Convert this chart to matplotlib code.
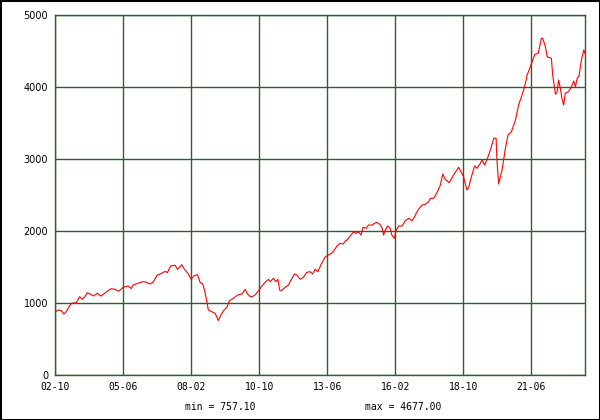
import matplotlib
matplotlib.use("Agg")
import matplotlib.pyplot as plt
from matplotlib.patches import Rectangle

# months since 2002-10
months = [0.3, 1.4, 3.0, 4.2, 5.3, 6.6, 7.7, 10.0, 11.6, 12.8, 14.0, 15.2, 16.6, 18.2, 19.9,
          21.5, 23.4, 24.9, 26.5, 28.1, 30.0, 32.0, 34.4, 35.9, 36.7, 39.1, 41.1, 42.7, 44.6, 46.1,
          48.1, 50.2, 51.8, 52.8, 54.4, 56.5, 57.6, 59.6, 60.8, 62.7, 64.0, 65.4, 67.0, 68.2, 69.5,
          70.6, 71.4, 72.1, 73.7, 75.3, 76.8, 78.0, 79.2, 80.8, 82.0, 83.9, 85.8, 87.9, 89.4, 90.5,
          91.8, 92.6, 94.1, 95.7, 97.3, 98.8, 100.4, 101.2, 102.7, 103.9, 104.8, 105.6, 106.4, 108.2,
          109.8, 111.4, 112.6, 113.7, 115.3, 116.8, 118.4, 120.0, 121.1, 122.4, 123.6, 125.5, 127.1,
          128.6, 130.5, 132.6, 134.1, 135.4, 136.5, 137.3, 138.8, 140.4, 141.6, 142.7, 143.9, 144.8,
          146.4, 147.4, 149.0, 151.1, 152.6, 153.7, 154.5, 155.3, 156.4, 157.6, 158.4, 159.5, 160.5,
          161.6, 163.2, 164.7, 166.3, 167.9, 168.9, 170.5, 172.5, 174.1, 175.7, 176.5, 178.0, 179.6,
          181.2, 182.3, 183.5, 185.4, 187.4, 189.8, 191.1, 192.1, 193.7, 194.5, 195.8, 197.3, 198.4,
          200.0, 200.8, 202.0, 203.2, 204.7, 206.3, 207.4, 207.8, 208.6, 210.2, 211.8, 213.0, 214.6,
          216.5, 218.0, 219.6, 220.8, 222.0, 223.5, 225.6, 227.2, 228.7, 229.3, 230.6, 231.4, 233.4,
          234.0, 235.3, 236.1, 236.8, 237.6, 238.4, 239.2, 239.9, 241.5, 242.8, 243.9, 244.7, 245.5,
          246.4, 247.5, 248.6, 249.2]
values = [879, 903, 893, 847, 879, 949, 996, 1004, 1088, 1051, 1088, 1143, 1125, 1097, 1135,
          1097, 1135, 1171, 1199, 1190, 1163, 1218, 1236, 1199, 1250, 1274, 1296, 1292, 1264, 1288,
          1389, 1412, 1440, 1421, 1514, 1524, 1468, 1532, 1472, 1403, 1329, 1379, 1393, 1288, 1264,
          1143, 1018, 903, 879, 857, 757.1, 833, 893, 940, 1032, 1065, 1111, 1125, 1190, 1125,
          1088, 1088, 1111, 1171, 1236, 1288, 1329, 1296, 1343, 1296, 1329, 1181, 1171, 1218,
          1250, 1343, 1403, 1389, 1329, 1357, 1426, 1435, 1403, 1468, 1435, 1560, 1643,
          1667, 1699, 1792, 1829, 1819, 1861, 1875, 1931, 1986, 1968, 1990, 1944, 2051,
          2037, 2083, 2083, 2121, 2097, 2051, 1944, 2014, 2069, 2037, 1944, 1899, 2014,
          2069, 2069, 2143, 2176, 2143, 2190, 2282, 2361, 2371, 2407, 2454, 2454, 2532,
          2639, 2792, 2718, 2671, 2778, 2885, 2810, 2754, 2569, 2607, 2754, 2903, 2871,
          2940, 2986, 2917, 2996, 3125, 3288, 3288, 2986, 2653, 2847, 3153, 3333, 3379,
          3542, 3750, 3889, 4004, 4167, 4282, 4454, 4468, 4677, 4677, 4560, 4421, 4399,
          4167, 3899, 3935, 4097, 3982, 3833, 3750, 3912, 3935, 4004, 4083, 4004, 4121,
          4157, 4375, 4514, 4468]

tick_months = [0, 32, 64, 96, 128, 160, 192, 224]
tick_labels = ["02-10", "05-06", "08-02", "10-10", "13-06", "16-02", "18-10", "21-06"]
y_ticks = [0, 1000, 2000, 3000, 4000, 5000]

grid_col = "#2d602d"

fig = plt.figure(figsize=(6, 4.2), dpi=100)
ax = fig.add_axes([55 / 600, 45 / 420, 530 / 600, 360 / 420])

ax.plot(months, values, color="#ff0000", linewidth=0.8, zorder=3)

ax.set_xlim(0, 249.2)
ax.set_ylim(0, 5000)

ax.set_xticks(tick_months, tick_labels, fontfamily="DejaVu Sans Mono", fontsize=7)
ax.set_yticks(y_ticks, [str(v) for v in y_ticks], fontfamily="DejaVu Sans", fontsize=7)
ax.tick_params(axis="both", length=0, colors="black")
ax.tick_params(axis="x", pad=5)
ax.tick_params(axis="y", pad=5)

# grid lines
for m in tick_months:
    ax.axvline(m, color=grid_col, linewidth=1.0, zorder=1)
for v in y_ticks:
    ax.axhline(v, color=grid_col, linewidth=1.0, zorder=1)
for s in ax.spines.values():
    s.set_color(grid_col)
    s.set_linewidth(1.0)

fig.text(185 / 600, 13 / 420, "min = %.2f" % min(values), fontfamily="DejaVu Sans Mono",
         fontsize=7, ha="left", va="center")
fig.text(365 / 600, 13 / 420, "max = %.2f" % max(values), fontfamily="DejaVu Sans Mono",
         fontsize=7, ha="left", va="center")

# outer border
fig.patches.append(Rectangle((0, 0), 1, 1, transform=fig.transFigure, fill=False,
                             edgecolor="black", linewidth=2.2))

fig.savefig("out.png", dpi=100, facecolor="white")
